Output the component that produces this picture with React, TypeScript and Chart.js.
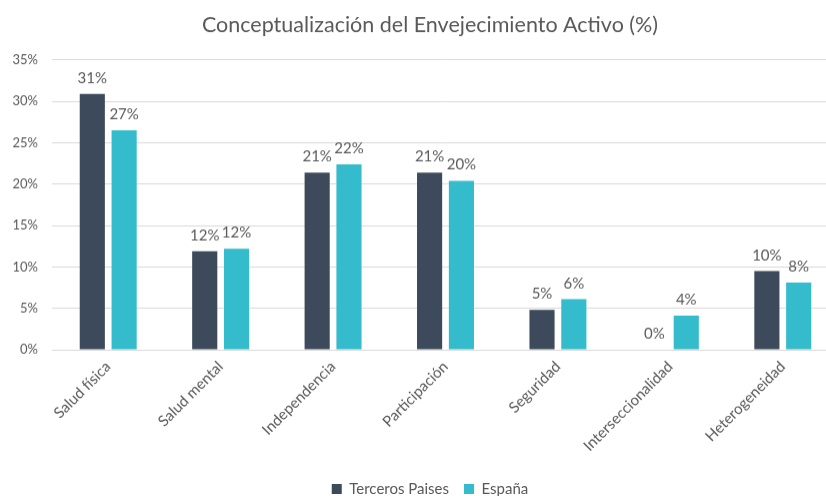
import React, { useEffect, useRef } from "react";
import { Chart, registerables } from "chart.js";

Chart.register(...registerables);

const categories = [
  "Salud física",
  "Salud mental",
  "Independencia",
  "Participación",
  "Seguridad",
  "Interseccionalidad",
  "Heterogeneidad",
];
const tercerosPaises = [30.9, 11.9, 21.4, 21.4, 4.8, 0, 9.5];
const espana = [26.5, 12.2, 22.4, 20.4, 6.1, 4.1, 8.1];
const seriesNames = ["Terceros Paises", "España"];
const titleText = "Conceptualización del Envejecimiento Activo (%)";

const FONT = "Lato";
const TEXT = "#595959";

const valueLabels = {
  id: "valueLabels",
  afterDatasetsDraw(chart: any) {
    const ctx = chart.ctx;
    ctx.save();
    ctx.font = `15px ${FONT}`;
    ctx.fillStyle = TEXT;
    ctx.textAlign = "center";
    ctx.textBaseline = "alphabetic";
    chart.data.datasets.forEach((ds: any, i: number) => {
      const meta = chart.getDatasetMeta(i);
      meta.data.forEach((bar: any, j: number) => {
        ctx.fillText(Math.round(ds.data[j]) + "%", bar.x, bar.y - 11);
      });
    });
    ctx.restore();
  },
};

export default function App() {
  const ref = useRef<HTMLCanvasElement | null>(null);
  useEffect(() => {
    document.documentElement.style.overflow = "hidden";
    document.body.style.overflow = "hidden";
    const chart = new Chart(ref.current as HTMLCanvasElement, {
      type: "bar",
      data: {
        labels: categories,
        datasets: [
          {
            label: seriesNames[0],
            data: tercerosPaises,
            backgroundColor: "#3d4a5b",
            categoryPercentage: 0.566,
            barPercentage: 0.79,
          },
          {
            label: seriesNames[1],
            data: espana,
            backgroundColor: "#34bbcc",
            categoryPercentage: 0.566,
            barPercentage: 0.79,
          },
        ],
      },
      options: {
        animation: false,
        responsive: true,
        maintainAspectRatio: false,
        layout: { padding: 0 },
        plugins: {
          title: {
            display: true,
            text: titleText,
            color: TEXT,
            font: { family: FONT, size: 21.5, weight: "normal" },
            padding: { top: 12, bottom: 22 },
          },
          legend: {
            position: "bottom",
            labels: {
              color: TEXT,
              font: { family: FONT, size: 15 },
              boxWidth: 10,
              boxHeight: 10,
              padding: 15,
            },
          },
          tooltip: { enabled: false },
        },
        scales: {
          x: {
            grid: { display: false },
            border: { display: false },
            ticks: {
              color: TEXT,
              font: { family: FONT, size: 15 },
              autoSkip: false,
              minRotation: 45,
              maxRotation: 45,
              padding: 0,
            },
            afterFit: (s: any) => {
              s.height = 116.5;
            },
          },
          y: {
            min: 0,
            max: 35,
            grid: { color: "#d9d9d9", lineWidth: 1, drawTicks: false },
            border: { display: false },
            ticks: {
              stepSize: 5,
              color: TEXT,
              font: { family: FONT, size: 13 },
              padding: 14,
              callback: (v: any) => v + "%",
            },
            afterFit: (s: any) => {
              s.width = 52;
            },
          },
          y2: {
            position: "right",
            display: true,
            grid: { display: false },
            border: { display: false },
            ticks: { display: false },
            afterFit: (s: any) => {
              s.width = 21;
            },
          },
        },
      } as any,
      plugins: [valueLabels],
    });
    return () => chart.destroy();
  }, []);
  return (
    <div style={{ position: "absolute", left: 0, top: 0, width: 860, height: 505.5, background: "#fff" }}>
      <canvas ref={ref} />
    </div>
  );
}
